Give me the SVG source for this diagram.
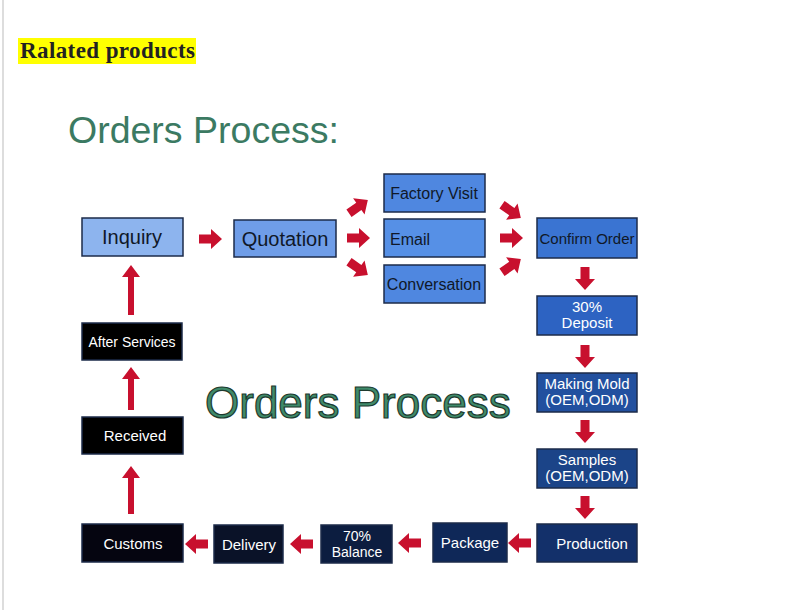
<svg xmlns="http://www.w3.org/2000/svg" width="800" height="610" viewBox="0 0 800 610">
<style>
.box{stroke:#1c2b4a;stroke-width:1.5}
.t{font-family:"Liberation Sans",Arial,sans-serif;text-anchor:middle}
.dk{fill:#101828}
.wt{fill:#ffffff}
.arr{fill:#c8102e}
</style>
<defs>
<path id="ar" d="M-11,-4.5 H1 V-10 L12,0 L1,10 V4.5 H-11 Z"/>
</defs>
<rect width="800" height="610" fill="#ffffff"/>
<line x1="3" y1="0" x2="3" y2="610" stroke="#dddddd" stroke-width="2"/>
<rect x="18" y="38" width="178" height="26" fill="#ffff00"/>
<text x="20" y="58" font-family="'Liberation Serif','Times New Roman',serif" font-weight="bold" font-size="23" textLength="175" fill="#222">Ralated products</text>
<text x="68" y="143" font-family="'Liberation Sans',Arial,sans-serif" font-size="37.5" fill="#3b7a62">Orders Process:</text>
<text x="205" y="418" font-family="'Liberation Sans',Arial,sans-serif" font-size="44" fill="#3f8a6a" stroke="#1d3a2e" stroke-width="1.2">Orders Process</text>

<g id="n-inquiry"><rect class="box" x="82" y="218" width="101" height="38" fill="#8db4ee"/><text class="t dk" x="132" y="244" font-size="20">Inquiry</text></g>
<g id="n-quotation"><rect class="box" x="234" y="220" width="102" height="37" fill="#6f9de8"/><text class="t dk" x="285" y="246" font-size="20">Quotation</text></g>
<g id="n-factory"><rect class="box" x="384" y="174" width="101" height="38" fill="#4f87e0"/><text class="t dk" x="434" y="199" font-size="16">Factory Visit</text></g>
<g id="n-email"><rect class="box" x="384" y="219" width="101" height="38" fill="#5690e6"/><text class="t dk" x="410" y="245" font-size="16">Email</text></g>
<g id="n-conversation"><rect class="box" x="384" y="265" width="101" height="38" fill="#4f87e0"/><text class="t dk" x="434" y="290" font-size="16">Conversation</text></g>
<g id="n-confirm"><rect class="box" x="537" y="218" width="100" height="40" fill="#3a74d2"/><text class="t dk" x="587" y="244" font-size="15">Confirm Order</text></g>
<g id="n-deposit"><rect class="box" x="537" y="296" width="100" height="39" fill="#2d63c2"/><text class="t wt" x="587" y="312" font-size="15">30%</text><text class="t wt" x="587" y="328" font-size="15">Deposit</text></g>
<g id="n-mold"><rect class="box" x="537" y="373" width="100" height="39" fill="#22509f"/><text class="t wt" x="587" y="389" font-size="15">Making Mold</text><text class="t wt" x="587" y="405" font-size="15">(OEM,ODM)</text></g>
<g id="n-samples"><rect class="box" x="537" y="449" width="100" height="39" fill="#1b4488"/><text class="t wt" x="587" y="465" font-size="15">Samples</text><text class="t wt" x="587" y="481" font-size="15">(OEM,ODM)</text></g>
<g id="n-production"><rect class="box" x="537" y="524" width="100" height="38" fill="#13306a"/><text class="t wt" x="592" y="549" font-size="15">Production</text></g>
<g id="n-package"><rect class="box" x="433" y="523" width="74" height="39" fill="#0f2858"/><text class="t wt" x="470" y="548" font-size="15">Package</text></g>
<g id="n-balance"><rect class="box" x="321" y="525" width="71" height="38" fill="#0c1d40"/><text class="t wt" x="357" y="541" font-size="14">70%</text><text class="t wt" x="357" y="557" font-size="14">Balance</text></g>
<g id="n-delivery"><rect class="box" x="214" y="525" width="69" height="38" fill="#0a1228"/><text class="t wt" x="249" y="550" font-size="15">Delivery</text></g>
<g id="n-customs"><rect class="box" x="82" y="524" width="101" height="38" fill="#050510"/><text class="t wt" x="133" y="549" font-size="15">Customs</text></g>
<g id="n-received"><rect class="box" x="82" y="417" width="101" height="37" fill="#000000"/><text class="t wt" x="135" y="441" font-size="15">Received</text></g>
<g id="n-after"><rect class="box" x="82" y="323" width="100" height="37" fill="#000000"/><text class="t wt" x="132" y="347" font-size="14">After Services</text></g>

<g id="connectors" class="arr">
<use href="#ar" transform="translate(210,239)"/>
<use href="#ar" transform="translate(358,207) rotate(-35)"/>
<use href="#ar" transform="translate(358,238)"/>
<use href="#ar" transform="translate(358,268) rotate(35)"/>
<use href="#ar" transform="translate(511,211) rotate(35)"/>
<use href="#ar" transform="translate(511,238)"/>
<use href="#ar" transform="translate(511,266) rotate(-35)"/>
<use href="#ar" transform="translate(585,278) rotate(90)"/>
<use href="#ar" transform="translate(585,356) rotate(90)"/>
<use href="#ar" transform="translate(585,431) rotate(90)"/>
<use href="#ar" transform="translate(585,507) rotate(90)"/>
<use href="#ar" transform="translate(520,543) rotate(180)"/>
<use href="#ar" transform="translate(410,543) rotate(180)"/>
<use href="#ar" transform="translate(302,544) rotate(180)"/>
<use href="#ar" transform="translate(197,544) rotate(180)"/>
<path d="M128,514 V478 H122 L131,466 L140,478 H134 V514 Z"/>
<path d="M128,410 V379 H122 L131,367 L140,379 H134 V410 Z"/>
<path d="M128,315 V277 H122 L131,265 L140,277 H134 V315 Z"/>
</g>
</svg>
